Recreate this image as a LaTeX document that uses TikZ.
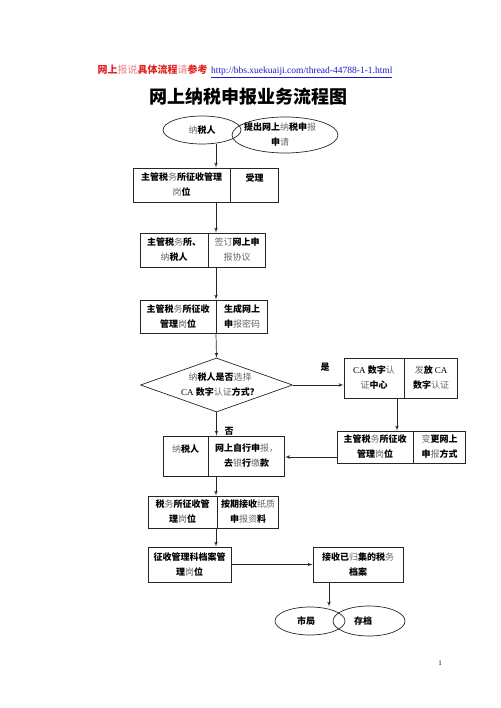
\documentclass[tikz,border=0pt]{standalone}
\usepackage{fontspec}
\setmainfont{Liberation Serif}
\newfontfamily\cjk{Noto Sans CJK SC}
\usepackage{tikz}
\usetikzlibrary{positioning, shapes, arrows, calc}
\definecolor{headred}{RGB}{225, 35, 35}
\definecolor{linkblue}{RGB}{25, 25, 200}
\newcommand{\lite}[1]{{\mdseries\color{.!60!white}#1}}
\newcommand{\lat}[1]{{\rmfamily\mdseries #1}}

\begin{document}
\begin{tikzpicture}[x=1pt, y=-1pt, node distance=0pt, >=latex', line width=0.7pt]
    \tikzstyle{cell} = [rectangle, draw=black!85, inner sep=0pt, align=center, font=\cjk\bfseries\fontsize{9}{15}\selectfont]
    \tikzstyle{txt} = [inner sep=0pt, align=center, font=\cjk\bfseries\fontsize{9}{15}\selectfont]
    \tikzstyle{oval} = [ellipse, draw=black!85, inner sep=0pt]
    \tikzstyle{decision} = [diamond, draw=black!85, inner sep=0pt, minimum width=152pt, minimum height=54pt]

    \useasboundingbox (0,0) rectangle (500,708);

    % header and title
    \node[inner sep=0pt, text=headred, font=\cjk\bfseries\fontsize{10}{12}\selectfont] (head) at (152.5,70) {网上\lite{报说}具体流程\lite{请}参考};
    \node[inner sep=0pt, text=linkblue, font=\fontsize{9.5}{12}\selectfont, anchor=base west] (link) at ([xshift=3pt]head.base east) {\underline{http://bbs.xuekuaiji.com/thread-44788-1-1.html}};
    \node[font=\cjk\bfseries\fontsize{18}{20}\selectfont] (title) at (248,97) {网上纳税申报业务流程图};

    % start
    \node[oval, minimum width=78pt, minimum height=28pt, label={[txt]center:\lite{纳}税人}] (payer) at (202,130) {};
    \node[oval, minimum width=106pt, minimum height=36pt, label={[txt, xshift=-5pt]center:提出网上\lite{纳}税申\lite{报}\\申\lite{请}}] (apply) at (285,135) {};

    % main column
    \node[cell, minimum width=97pt, minimum height=34pt] (b1l) at (181.5,185) {主管税\lite{务}所征收管理\\\lite{岗}位};
    \node[cell, minimum width=48pt, minimum height=34pt, right=0pt of b1l] (b1r) {受理\\\mbox{}};

    \node[cell, minimum width=68pt, minimum height=34pt] (b2l) at (174,250) {主管税\lite{务}所、\\\lite{纳}税人};
    \node[cell, minimum width=57pt, minimum height=34pt, right=0pt of b2l] (b2r) {\lite{签订}网上申\\\lite{报协议}};

    \node[cell, minimum width=76pt, minimum height=33pt] (b3l) at (178,316.5) {主管税\lite{务}所征收\\管理\lite{岗}位};
    \node[cell, minimum width=51pt, minimum height=33pt, right=0pt of b3l] (b3r) {生成网上\\申\lite{报密码}};

    \node[decision, label={[txt, xshift=3.5pt]center:\lite{纳}税人是否\lite{选择}\\\lat{CA} 数字\lite{认证}方式？}] (ask) at (216.5,385) {};

    % CA branch
    \node[cell, minimum width=60pt, minimum height=40pt] (cal) at (374,378) {\lat{CA} 数字\lite{认}\\\lite{证}中心};
    \node[cell, minimum width=53pt, minimum height=40pt, right=0pt of cal] (car) {\lite{发}放 \lat{CA}\\数字\lite{认证}};

    \node[cell, minimum width=76pt, minimum height=32pt] (chl) at (375,447) {主管税\lite{务}所征收\\管理\lite{岗}位};
    \node[cell, minimum width=52pt, minimum height=32pt, right=0pt of chl] (chr) {\lite{变}更网上\\申\lite{报}方式};

    % lower column
    \node[cell, minimum width=45pt, minimum height=40pt] (selfl) at (185.5,456) {\lite{纳}税人\\\mbox{}};
    \node[cell, minimum width=76pt, minimum height=40pt, right=0pt of selfl] (selfr) {网上自行申\lite{报，}\\去\lite{银}行\lite{缴}款};

    \node[cell, minimum width=69pt, minimum height=32pt] (paperl) at (182.5,512) {税\lite{务}所征收管\\理\lite{岗}位};
    \node[cell, minimum width=61pt, minimum height=32pt, right=0pt of paperl] (paperr) {按期接收\lite{纸质}\\申\lite{报资}料};

    \node[cell, minimum width=83pt, minimum height=35pt] (arch) at (189.5,564.5) {征收管理科档案管\\理\lite{岗}位};
    \node[cell, minimum width=90pt, minimum height=35pt] (recv) at (358,564.5) {接收已\lite{归}集的税\lite{务}\\档案};

    \node[oval, minimum width=70pt, minimum height=28pt, label={[txt, xshift=-4pt]center:市局}] (city) at (310,621) {};
    \node[oval, minimum width=72pt, minimum height=30pt, label={[txt, xshift=-6pt]center:存档}] (store) at (369,621) {};

    \node[txt] (yes) at (325,367) {是};
    \node[txt] (no) at (229,431) {否};
    \node[inner sep=0pt, font=\fontsize{7}{8}\selectfont] (page) at (440,663) {1};

    % connectors
    \coordinate (spine) at (216,0);
    \coordinate (cadrop) at (397,0);
    \coordinate (back) at (0,457);
    \coordinate (drop) at (329,0);
    \begin{scope}[draw=black!85]
    \draw[->] (payer.south -| spine) -- (b1l.north -| spine);
    \draw[->] (b1l.south -| spine) -- (b2l.north -| spine);
    \draw[->] (b2l.south -| spine) -- (b3l.north -| spine);
    \draw[->] (b3l.south -| spine) -- (ask.north);
    \draw[->] (ask.south) -- (selfl.north -| ask.south);
    \draw[->] (ask.east) -- (cal.west |- ask.east);
    \draw[->] (cal.south -| cadrop) -- (chl.north -| cadrop);
    \draw[->] (chl.west |- back) -- (selfr.east |- back);
    \draw[->] (selfl.south -| spine) -- (paperl.north -| spine);
    \draw[->] (paperl.south -| spine) -- (arch.north -| spine);
    \draw[->] (arch) -- (recv);
    \draw[->] (recv.south -| drop) -- (city.north -| drop);
    \end{scope}
\end{tikzpicture}
\end{document}
